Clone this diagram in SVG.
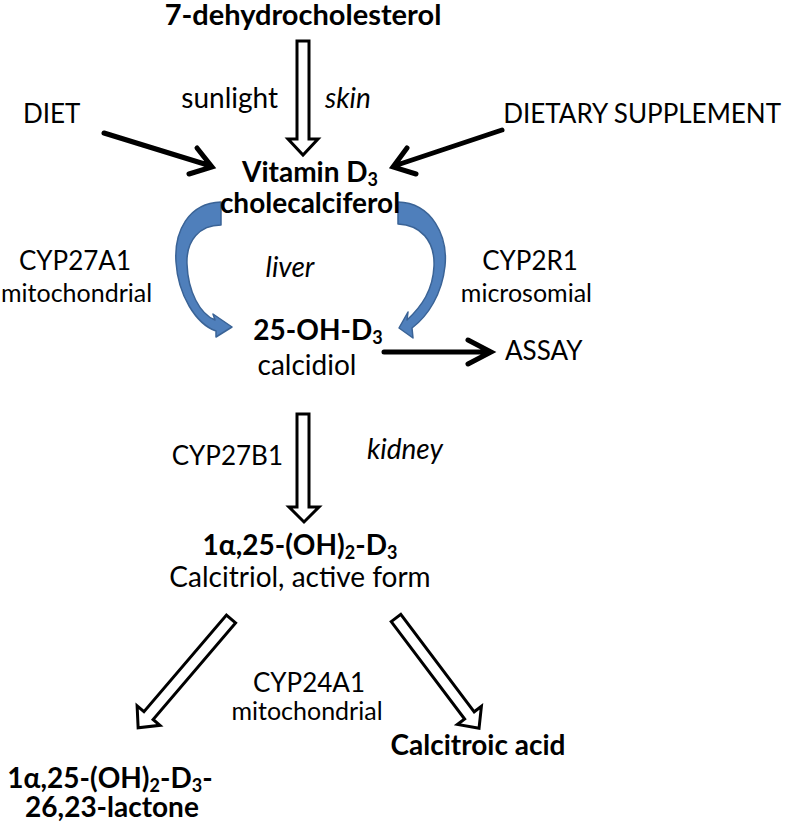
<svg xmlns="http://www.w3.org/2000/svg" width="788" height="822" viewBox="0 0 788 822">
<style>
text{font-family:Lato,"Open Sans","Liberation Sans",sans-serif;font-size:28px;fill:#000}
.b{font-weight:bold}
.i{font-style:italic}
.c{font-size:26px}
.s{font-size:25px}
.sub{font-size:18px}
.hollow{fill:#fff;stroke:#000;stroke-width:3;stroke-linejoin:miter}
.blk{fill:none;stroke:#000;stroke-width:5;stroke-linecap:round;stroke-linejoin:miter}
.blue{fill:#4f7fbb;stroke:#3a6396;stroke-width:1.5;stroke-linejoin:round}
</style>
<rect width="788" height="822" fill="#fff"/>
<g id="connectors">
  <polygon class="hollow" points="297,41 309,41 309,139 318,139 303,155 288,139 297,139"/>
  <path class="blk" d="M104 133 L211 166 M197 148 L212 167 L189 174"/>
  <path class="blk" d="M502 130 L394 166 M407 148 L393 167 L416 174"/>
  <path class="blue" d="M221 202 C188 203 174 232 176 262 C178 295 196 324 216 331 L216 337 L232 327 L213 314 L215 320 C200 314 188 292 187 264 C186 240 200 225 221 225 Z"/>
  <path class="blue" d="M398 202 C432 203 448 236 445 266 C442 294 428 316 412 328 L413 338 L399 328 L408 312 L407 320 C422 306 433 290 434 266 C435 240 420 225 398 224 Z"/>
  <path class="blk" d="M384 352 L490 352 M468 340 L491 352 L468 364"/>
  <polygon class="hollow" points="297,414 309,414 309,507 319,507 304,522 289,507 297,507"/>
  <polygon class="hollow" transform="translate(231,619) rotate(40.5)" points="-6,0 6,0 6,127 15,127 0,143 -15,127 -6,127"/>
  <polygon class="hollow" transform="translate(396,618) rotate(-37)" points="-6,0 6,0 6,122 15,122 0,138 -15,122 -6,122"/>
</g>
<g id="n-7dhc"><text class="b" x="303" y="25" text-anchor="middle" style="font-size:29px">7-dehydrocholesterol</text></g>
<g id="l-sunlight"><text x="278" y="108" text-anchor="end">sunlight</text></g>
<g id="l-skin"><text class="i" x="325" y="108">skin</text></g>
<g id="n-diet"><text class="c" x="23" y="123">DIET</text></g>
<g id="n-supplement"><text class="c" x="781" y="123" text-anchor="end">DIETARY SUPPLEMENT</text></g>
<g id="n-vitd3">
  <text class="b" x="310" y="182" text-anchor="middle">Vitamin D<tspan class="sub" dy="4">3</tspan></text>
  <text class="b" x="310" y="213" text-anchor="middle">cholecalciferol</text>
</g>
<g id="l-cyp27a1">
  <text class="c" x="75" y="270" text-anchor="middle">CYP27A1</text>
  <text class="s" x="1" y="302">mitochondrial</text>
</g>
<g id="l-liver"><text class="i" x="290" y="277" text-anchor="middle">liver</text></g>
<g id="l-cyp2r1">
  <text class="c" x="530" y="270" text-anchor="middle">CYP2R1</text>
  <text class="s" x="592" y="302" text-anchor="end">microsomial</text>
</g>
<g id="n-25ohd3">
  <text class="b" x="318" y="340" text-anchor="middle">25-OH-D<tspan class="sub" dy="4">3</tspan></text>
  <text x="307" y="375" text-anchor="middle">calcidiol</text>
</g>
<g id="n-assay"><text class="c" x="505" y="360">ASSAY</text></g>
<g id="l-cyp27b1"><text class="c" x="283" y="465" text-anchor="end">CYP27B1</text></g>
<g id="l-kidney"><text class="i" x="367" y="459">kidney</text></g>
<g id="n-calcitriol">
  <text class="b" x="300" y="555" text-anchor="middle">1α,25-(OH)<tspan class="sub" dy="4">2</tspan><tspan dy="-4">-D</tspan><tspan class="sub" dy="4">3</tspan></text>
  <text x="300" y="587" text-anchor="middle">Calcitriol, active form</text>
</g>
<g id="l-cyp24a1">
  <text class="c" x="309" y="692" text-anchor="middle">CYP24A1</text>
  <text class="s" x="307" y="720" text-anchor="middle">mitochondrial</text>
</g>
<g id="n-lactone">
  <text class="b" x="110" y="788" text-anchor="middle">1α,25-(OH)<tspan class="sub" dy="4">2</tspan><tspan dy="-4">-D</tspan><tspan class="sub" dy="4">3</tspan><tspan dy="-4">-</tspan></text>
  <text class="b" x="112" y="817" text-anchor="middle">26,23-lactone</text>
</g>
<g id="n-calcitroic"><text class="b" x="478" y="755" text-anchor="middle">Calcitroic acid</text></g>
</svg>
